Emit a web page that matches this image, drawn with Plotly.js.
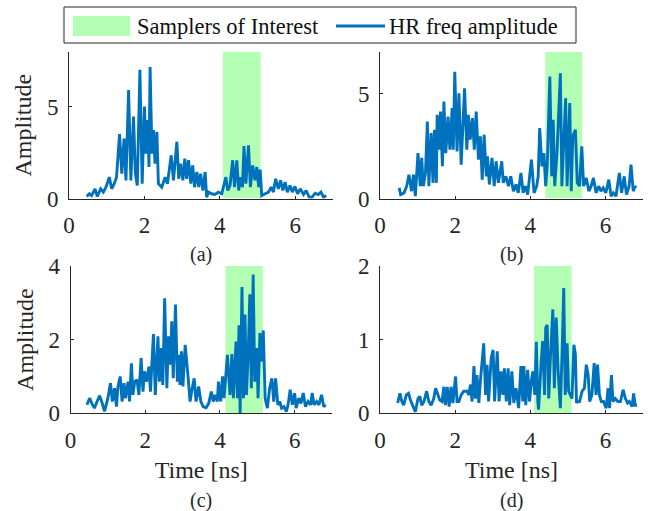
<!DOCTYPE html>
<html><head><meta charset="utf-8">
<script src="https://cdn.plot.ly/plotly-3.0.1.min.js"></script>
<style>html,body{margin:0;padding:0;background:#fff}</style>
</head><body><div id="chart" style="width:656px;height:511px"></div>
<script>
// ---- data ----
const timeA = [0.47,0.54,0.60,0.69,0.75,0.84,0.91,0.98,1.07,1.13,1.20,1.26,1.34,1.40,1.46,1.51,1.58,1.64,1.71,1.76,1.81,1.88,1.94,2.00,2.04,2.09,2.12,2.15,2.20,2.24,2.28,2.33,2.37,2.46,2.55,2.61,2.71,2.77,2.86,2.91,2.96,3.02,3.07,3.12,3.17,3.23,3.28,3.33,3.39,3.44,3.49,3.55,3.61,3.65,3.70,3.78,3.87,3.96,4.05,4.09,4.16,4.21,4.27,4.34,4.39,4.45,4.50,4.54,4.60,4.64,4.69,4.76,4.81,4.87,4.93,4.98,5.03,5.07,5.11,5.20,5.29,5.36,5.42,5.48,5.55,5.61,5.67,5.73,5.79,5.86,5.92,5.99,6.06,6.13,6.22,6.29,6.37,6.44,6.53,6.61,6.68,6.75,6.82];
const ampA  = [0.11,0.26,0.16,0.53,0.11,0.53,0.35,0.62,1.17,0.53,0.81,1.17,3.52,1.36,3.28,0.99,5.93,0.99,4.47,1.36,0.71,7.03,0.81,5.02,2.45,4.29,1.72,7.18,2.45,3.74,1.90,3.64,0.81,0.62,1.17,0.81,2.36,0.99,3.10,1.08,1.90,0.99,2.18,1.08,2.09,0.81,1.81,0.62,1.45,0.62,1.36,0.44,1.45,0.07,0.35,0.26,0.22,0.35,0.26,0.62,1.17,0.44,0.71,2.09,0.62,2.09,0.44,1.17,0.62,2.86,0.81,2.91,0.62,1.81,0.99,1.72,0.62,1.58,0.16,0.26,0.35,0.62,0.35,1.08,0.53,0.99,0.44,0.90,0.35,0.71,0.35,0.66,0.26,0.53,0.22,0.44,0.07,0.07,0.29,0.22,0.35,0.07,0.16];

const timeB = [0.51,0.55,0.64,0.71,0.77,0.84,0.89,0.94,1.01,1.07,1.11,1.15,1.21,1.26,1.30,1.36,1.41,1.45,1.50,1.52,1.57,1.61,1.66,1.70,1.75,1.81,1.86,1.92,1.95,1.99,2.05,2.10,2.16,2.25,2.31,2.35,2.40,2.46,2.51,2.56,2.62,2.67,2.72,2.77,2.83,2.86,2.91,2.98,3.04,3.09,3.15,3.24,3.28,3.35,3.42,3.48,3.55,3.62,3.68,3.75,3.81,3.87,3.93,4.03,4.10,4.17,4.21,4.25,4.31,4.36,4.41,4.45,4.52,4.57,4.61,4.65,4.71,4.80,4.84,4.90,4.94,4.98,5.05,5.09,5.13,5.20,5.25,5.31,5.37,5.42,5.49,5.56,5.62,5.68,5.75,5.82,5.88,5.94,6.01,6.09,6.15,6.21,6.28,6.37,6.43,6.50,6.56,6.63,6.68,6.74,6.79,6.81];
const ampB  = [0.51,0.19,0.27,0.59,1.14,0.35,1.14,0.11,2.17,0.59,1.94,0.59,1.22,3.68,0.59,3.13,0.75,3.29,0.75,4.00,2.33,4.16,1.54,4.63,2.17,3.92,2.33,4.32,2.33,6.06,2.25,5.03,1.62,5.27,2.33,4.00,2.81,3.84,2.33,4.16,1.86,2.97,0.90,3.05,1.06,2.02,0.67,1.94,0.59,1.78,0.75,1.78,0.75,1.06,0.59,1.06,0.35,0.67,0.27,1.22,0.27,0.59,0.19,1.86,0.27,0.59,1.06,3.37,1.54,2.17,0.59,1.54,5.83,1.06,3.76,0.59,2.17,5.98,0.59,3.60,4.79,0.59,4.56,0.35,2.97,3.29,0.75,0.59,2.49,0.59,0.98,0.35,0.59,0.98,0.27,0.59,0.35,0.51,0.27,0.90,0.11,0.27,0.11,1.22,0.27,1.06,0.19,0.59,1.62,0.35,0.59,0.51];

const timeC = [0.44,0.51,0.58,0.64,0.71,0.78,0.85,0.91,1.00,1.07,1.12,1.18,1.23,1.27,1.33,1.38,1.43,1.47,1.54,1.58,1.63,1.67,1.72,1.78,1.83,1.89,1.94,1.98,2.04,2.10,2.14,2.22,2.27,2.34,2.38,2.43,2.47,2.52,2.58,2.62,2.67,2.71,2.75,2.81,2.86,2.90,2.93,2.97,3.01,3.07,3.15,3.20,3.25,3.31,3.36,3.43,3.49,3.55,3.63,3.70,3.77,3.82,3.87,3.93,3.96,4.02,4.07,4.11,4.18,4.20,4.27,4.32,4.36,4.43,4.47,4.51,4.54,4.59,4.63,4.67,4.71,4.76,4.80,4.84,4.89,4.93,4.99,5.02,5.07,5.12,5.16,5.21,5.27,5.33,5.39,5.44,5.49,5.55,5.60,5.65,5.71,5.78,5.83,5.88,5.94,6.00,6.04,6.11,6.17,6.23,6.29,6.36,6.43,6.47,6.52,6.59,6.65,6.72,6.78,6.83];
const ampC  = [0.23,0.41,0.25,0.14,0.32,0.48,0.27,0.05,0.41,0.82,0.32,0.68,0.18,0.73,1.00,0.32,0.82,0.41,0.86,0.32,1.36,0.50,0.86,0.91,0.50,1.50,0.59,1.14,0.86,1.27,0.59,2.15,0.50,2.09,0.86,1.77,0.77,3.12,0.68,2.09,1.32,2.50,0.95,2.95,0.86,1.59,0.77,1.68,0.73,1.86,0.95,0.32,0.64,0.95,0.32,0.73,0.32,0.18,0.15,0.27,0.59,0.32,0.50,0.32,0.86,0.32,1.00,0.41,1.32,1.59,0.50,1.61,0.41,1.95,0.41,2.39,0.00,3.43,0.41,2.68,0.50,1.73,3.23,0.68,3.77,0.86,1.77,0.41,2.18,1.41,2.25,0.41,0.14,0.68,0.95,0.32,0.95,0.23,0.32,0.14,0.18,0.05,0.27,0.64,0.23,0.55,0.14,0.41,0.27,0.55,0.18,0.32,0.23,0.55,0.23,0.32,0.23,0.50,0.18,0.23];

const timeD = [0.47,0.53,0.58,0.63,0.70,0.76,0.81,0.88,0.94,1.01,1.06,1.11,1.17,1.24,1.30,1.36,1.43,1.48,1.54,1.59,1.65,1.70,1.74,1.79,1.84,1.89,1.94,2.01,2.05,2.10,2.16,2.23,2.32,2.36,2.41,2.45,2.50,2.54,2.58,2.63,2.67,2.76,2.81,2.85,2.89,2.96,3.01,3.05,3.12,3.17,3.22,3.27,3.31,3.36,3.41,3.45,3.51,3.56,3.62,3.69,3.75,3.80,3.83,3.88,3.93,3.98,4.03,4.07,4.12,4.16,4.20,4.22,4.29,4.33,4.38,4.41,4.45,4.49,4.53,4.60,4.64,4.69,4.74,4.80,4.85,4.89,4.93,4.98,5.02,5.07,5.11,5.16,5.20,5.23,5.26,5.31,5.38,5.44,5.49,5.54,5.58,5.64,5.70,5.75,5.79,5.84,5.89,5.95,6.02,6.07,6.11,6.16,6.20,6.26,6.33,6.40,6.47,6.53,6.59,6.64,6.71,6.75,6.79,6.84];
const ampD  = [0.14,0.27,0.16,0.11,0.25,0.27,0.18,0.09,0.02,0.20,0.23,0.11,0.16,0.30,0.16,0.11,0.20,0.34,0.25,0.18,0.16,0.36,0.11,0.36,0.09,0.36,0.14,0.50,0.16,0.16,0.25,0.30,0.30,0.25,0.39,0.16,0.64,0.20,0.52,0.14,0.43,0.95,0.25,0.66,0.16,0.75,0.86,0.16,0.84,0.16,0.57,0.25,0.61,0.16,0.61,0.11,0.57,0.14,0.34,0.07,0.64,0.16,0.64,0.11,0.59,0.16,0.45,0.57,0.25,0.97,0.16,0.05,0.70,0.98,0.25,1.16,1.20,0.20,0.70,1.41,0.34,1.30,0.57,0.07,0.89,1.70,0.25,0.95,0.30,0.25,0.20,0.93,0.80,0.14,0.16,0.16,0.30,0.34,0.66,0.52,0.16,0.25,0.68,0.25,0.66,0.25,0.16,0.16,0.07,0.34,0.07,0.52,0.16,0.20,0.16,0.16,0.32,0.20,0.14,0.16,0.09,0.27,0.11,0.11];

const bandStart = [4.08, 4.40, 4.15, 4.10];
const bandEnd   = [5.08, 5.38, 5.15, 5.10];
const yMax      = [8, 7, 4, 2];
const xMax      = 7;
const yTickVals = [[0,5],[0,5],[0,2,4],[0,1,2]];
const xTickVals = [0,2,4,6];
const captions  = ['(a)','(b)','(c)','(d)'];
const legendNames = ['Samplers of Interest','HR freq amplitude'];

// ---- build ----
const series = [[timeA,ampA],[timeB,ampB],[timeC,ampC],[timeD,ampD]];
const FONT = "'Liberation Serif', 'Times New Roman', serif";
const INK = '#262626';
const GREEN = '#b3ffb3';
const BLUE = '#0072BD';
const traces = [];
series.forEach((s,i)=>{
  const ax = i===0 ? '' : String(i+1);
  traces.push({
    type:'scatter', mode:'lines', xaxis:'x'+ax, yaxis:'y'+ax,
    x:[bandStart[i],bandEnd[i],bandEnd[i],bandStart[i],bandStart[i]],
    y:[0,0,yMax[i],yMax[i],0],
    fill:'toself', fillcolor:GREEN, line:{width:0, color:GREEN},
    name:legendNames[0], showlegend:false, hoverinfo:'skip'
  });
});
series.forEach((s,i)=>{
  const ax = i===0 ? '' : String(i+1);
  traces.push({
    type:'scatter', mode:'lines', xaxis:'x'+ax, yaxis:'y'+ax,
    x:s[0], y:s[1], line:{color:BLUE, width:2.9},
    name:legendNames[1], showlegend:false
  });
});

const xDom = [[0.1052,0.5076],[0.5793,0.9802],[0.1075,0.5061],[0.5793,0.9802]];
const yDom = [[0.6115,0.8982],[0.6115,0.8982],[0.1912,0.4795],[0.1912,0.4795]];

function xaxis(i){
  return {domain:xDom[i], anchor:'y'+(i===0?'':i+1), range:[0,xMax],
    tickvals:xTickVals, ticks:'inside', ticklen:3, tickcolor:INK, showline:true,
    linecolor:INK, linewidth:1, showgrid:false, zeroline:false, ticklabelstandoff:6,
    tickfont:{family:FONT,size:23,color:INK},
    title: i>=2 ? {text:'Time [ns]', font:{family:FONT,size:24,color:INK}, standoff:9} : {text:''}};
}
function yaxis(i){
  return {domain:yDom[i], anchor:'x'+(i===0?'':i+1), range:[0,yMax[i]],
    tickvals:yTickVals[i], ticks:'inside', ticklen:3, tickcolor:INK, showline:true,
    linecolor:INK, linewidth:1, showgrid:false, zeroline:false, ticklabelstandoff:5,
    tickfont:{family:FONT,size:23,color:INK},
    title: (i===0||i===2) ? {text:'Amplitude', font:{family:FONT,size:24,color:INK}, standoff:8} : {text:''}};
}
const capPos = [[0.3064,0.501],[0.7797,0.501],[0.3068,0.0215],[0.7797,0.0215]];
const W = 656, H = 511;
const px = v => v / W, py = v => 1 - v / H;
const annotations = captions.map((c,i)=>({text:c, xref:'paper', yref:'paper',
    x:capPos[i][0], y:capPos[i][1], xanchor:'center', yanchor:'middle', showarrow:false,
    font:{family:FONT,size:20,color:INK}}));
// custom legend (box, swatch, line sample, labels)
annotations.push({text:legendNames[0], xref:'paper', yref:'paper', x:px(135), y:py(26),
  xanchor:'left', yanchor:'middle', showarrow:false, font:{family:FONT,size:22.5,color:'#111'}});
annotations.push({text:legendNames[1], xref:'paper', yref:'paper', x:px(387), y:py(26),
  xanchor:'left', yanchor:'middle', showarrow:false, font:{family:FONT,size:22.5,color:'#111'}});
const shapes = [
  {type:'rect', xref:'paper', yref:'paper', x0:px(64), x1:px(576), y0:py(43), y1:py(7),
   line:{color:INK, width:1}, fillcolor:'#fff', layer:'above'},
  {type:'rect', xref:'paper', yref:'paper', x0:px(73), x1:px(130), y0:py(36), y1:py(16),
   line:{width:0}, fillcolor:GREEN, layer:'above'},
  {type:'line', xref:'paper', yref:'paper', x0:px(336), x1:px(385), y0:py(26), y1:py(26),
   line:{color:BLUE, width:2.9}, layer:'above'}
];
const layout = {
  width:W, height:H, margin:{l:0,r:0,t:0,b:0},
  paper_bgcolor:'#fff', plot_bgcolor:'rgba(0,0,0,0)',
  font:{family:FONT, size:23, color:INK},
  showlegend:false, annotations, shapes
};
for(let i=0;i<4;i++){
  const k = i===0 ? '' : String(i+1);
  layout['xaxis'+k] = xaxis(i);
  layout['yaxis'+k] = yaxis(i);
}
Plotly.newPlot('chart', traces, layout, {staticPlot:true, displayModeBar:false});
</script></body></html>
